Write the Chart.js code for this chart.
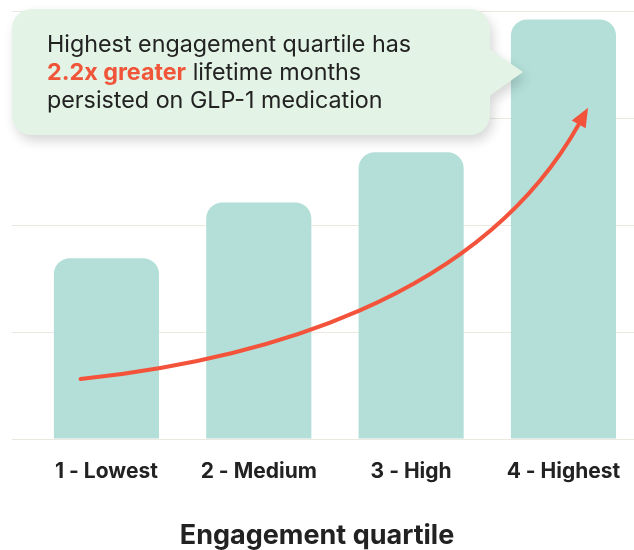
<!DOCTYPE html>
<html>
<head>
<meta charset="utf-8">
<script src="https://cdn.jsdelivr.net/npm/chart.js@4"></script>
<style>
  html, body { margin: 0; padding: 0; background: #fff; }
  #wrap { width: 634px; height: 550px; }
</style>
</head>
<body>
<div id="wrap"><canvas id="quartile-chart"></canvas></div>
<script>
var quartiles = ['1 - Lowest', '2 - Medium', '3 - High', '4 - Highest'];
var monthsPersisted = [1.69, 2.21, 2.68, 3.92];
var gridTicks = [0, 1, 2, 3, 4];

// trend arrow as a bezier in data units (x = quartile index, y = value): start, ctrl1, ctrl2, end
var arrowX = [-0.17, 1.01, 2.45, 3.10];
var arrowY = [0.56, 0.74, 1.30, 2.94];

var calloutLines = [
	[{text: 'Highest engagement quartile has', bold: false}],
	[{text: '2.2x greater', bold: true}, {text: ' lifetime months', bold: false}],
	[{text: 'persisted on GLP-1 medication', bold: false}]
];

var arrowPlugin = {
	id: 'trendArrow',
	afterDatasetsDraw: function (chart) {
		var ctx = chart.ctx, xs = chart.scales.x, ys = chart.scales.y;
		var p = arrowX.map(function (v, i) {
			return [xs.getPixelForValue(v), ys.getPixelForValue(arrowY[i])];
		});
		ctx.save();
		ctx.strokeStyle = '#f4533b';
		ctx.fillStyle = '#f4533b';
		ctx.lineWidth = 4;
		ctx.lineCap = 'round';
		ctx.beginPath();
		ctx.moveTo(p[0][0], p[0][1]);
		ctx.bezierCurveTo(p[1][0], p[1][1], p[2][0], p[2][1], p[3][0], p[3][1]);
		ctx.stroke();

		// head
		var ang = Math.atan2(p[3][1] - p[2][1], p[3][0] - p[2][0]);
		var len = 19, half = 8;
		var tipX = p[3][0] + Math.cos(ang) * len, tipY = p[3][1] + Math.sin(ang) * len;
		var nx = -Math.sin(ang), ny = Math.cos(ang);
		ctx.beginPath();
		ctx.moveTo(tipX, tipY);
		ctx.lineTo(p[3][0] + nx * half, p[3][1] + ny * half);
		ctx.lineTo(p[3][0] - nx * half, p[3][1] - ny * half);
		ctx.closePath();
		ctx.fill();
		ctx.restore();
	}
};

var calloutPlugin = {
	id: 'callout',
	afterDraw: function (chart) {
		var ctx = chart.ctx, a = chart.chartArea;
		var x = a.left, y = a.top - 2, w = 478, h = 126;
		ctx.save();
		ctx.shadowColor = 'rgba(0,0,0,0.16)';
		ctx.shadowBlur = 12;
		ctx.shadowOffsetX = 3;
		ctx.shadowOffsetY = 6;
		ctx.fillStyle = '#e3f3e5';
		ctx.beginPath();
		ctx.roundRect(x, y, w, h, 20);
		ctx.moveTo(x + w - 2, y + 39);
		ctx.lineTo(x + w + 33, y + 63);
		ctx.lineTo(x + w - 2, y + 88);
		ctx.closePath();
		ctx.fill();
		ctx.restore();

		ctx.save();
		ctx.textBaseline = 'alphabetic';
		calloutLines.forEach(function (parts, i) {
			var tx = x + 35, ty = y + 43 + i * 28;
			parts.forEach(function (part) {
				ctx.font = (part.bold ? 'bold ' : '') + '23.3px Inter';
				ctx.fillStyle = part.bold ? '#f0553a' : '#222222';
				ctx.fillText(part.text, tx, ty);
				tx += ctx.measureText(part.text).width;
			});
		});
		ctx.restore();
	}
};

new Chart('quartile-chart', {
	type: 'bar',
	data: {
		datasets: [
			{
				data: quartiles.map(function (q, i) { return {x: i, y: monthsPersisted[i]}; }),
				backgroundColor: '#b3dfd8',
				borderRadius: 16,
				borderSkipped: 'bottom',
				categoryPercentage: 1,
				barPercentage: 0.69
			}
		]
	},
	options: {
		responsive: true,
		maintainAspectRatio: false,
		animation: false,
		layout: {padding: {left: 0, top: 11, right: 0, bottom: 0}},
		plugins: {
			legend: {display: false},
			tooltip: {enabled: false},
			title: {
				display: true,
				position: 'bottom',
				text: 'Engagement quartile',
				color: '#222222',
				font: {family: 'Inter', size: 27, weight: 'bold'},
				padding: {top: 0, bottom: -2}
			}
		},
		scales: {
			x: {
				type: 'linear',
				offset: false,
				min: -0.62,
				max: 3.463,
				afterBuildTicks: function (s) {
					s.ticks = quartiles.map(function (q, i) { return {value: i}; });
				},
				ticks: {
					callback: function (v) { return quartiles[v]; },
					color: '#222222',
					font: {family: 'Inter', size: 21, weight: 'bold'},
					padding: 20,
					maxRotation: 0,
					autoSkip: false
				},
				grid: {display: false, drawTicks: false},
				border: {display: false},
				afterFit: function (s) {
					s.height = 80.6;
					// keep the gridlines running to the canvas edge
					s.paddingLeft = 0;
					s.paddingRight = 0;
				}
			},
			y: {
				min: 0,
				max: 4,
				afterBuildTicks: function (s) {
					s.ticks = gridTicks.map(function (v) { return {value: v}; });
				},
				ticks: {display: false},
				grid: {color: '#ebe8e0', lineWidth: 1, drawTicks: false},
				border: {display: false},
				afterFit: function (s) { s.width = 12; }
			}
		}
	},
	plugins: [arrowPlugin, calloutPlugin]
});
</script>
</body>
</html>
